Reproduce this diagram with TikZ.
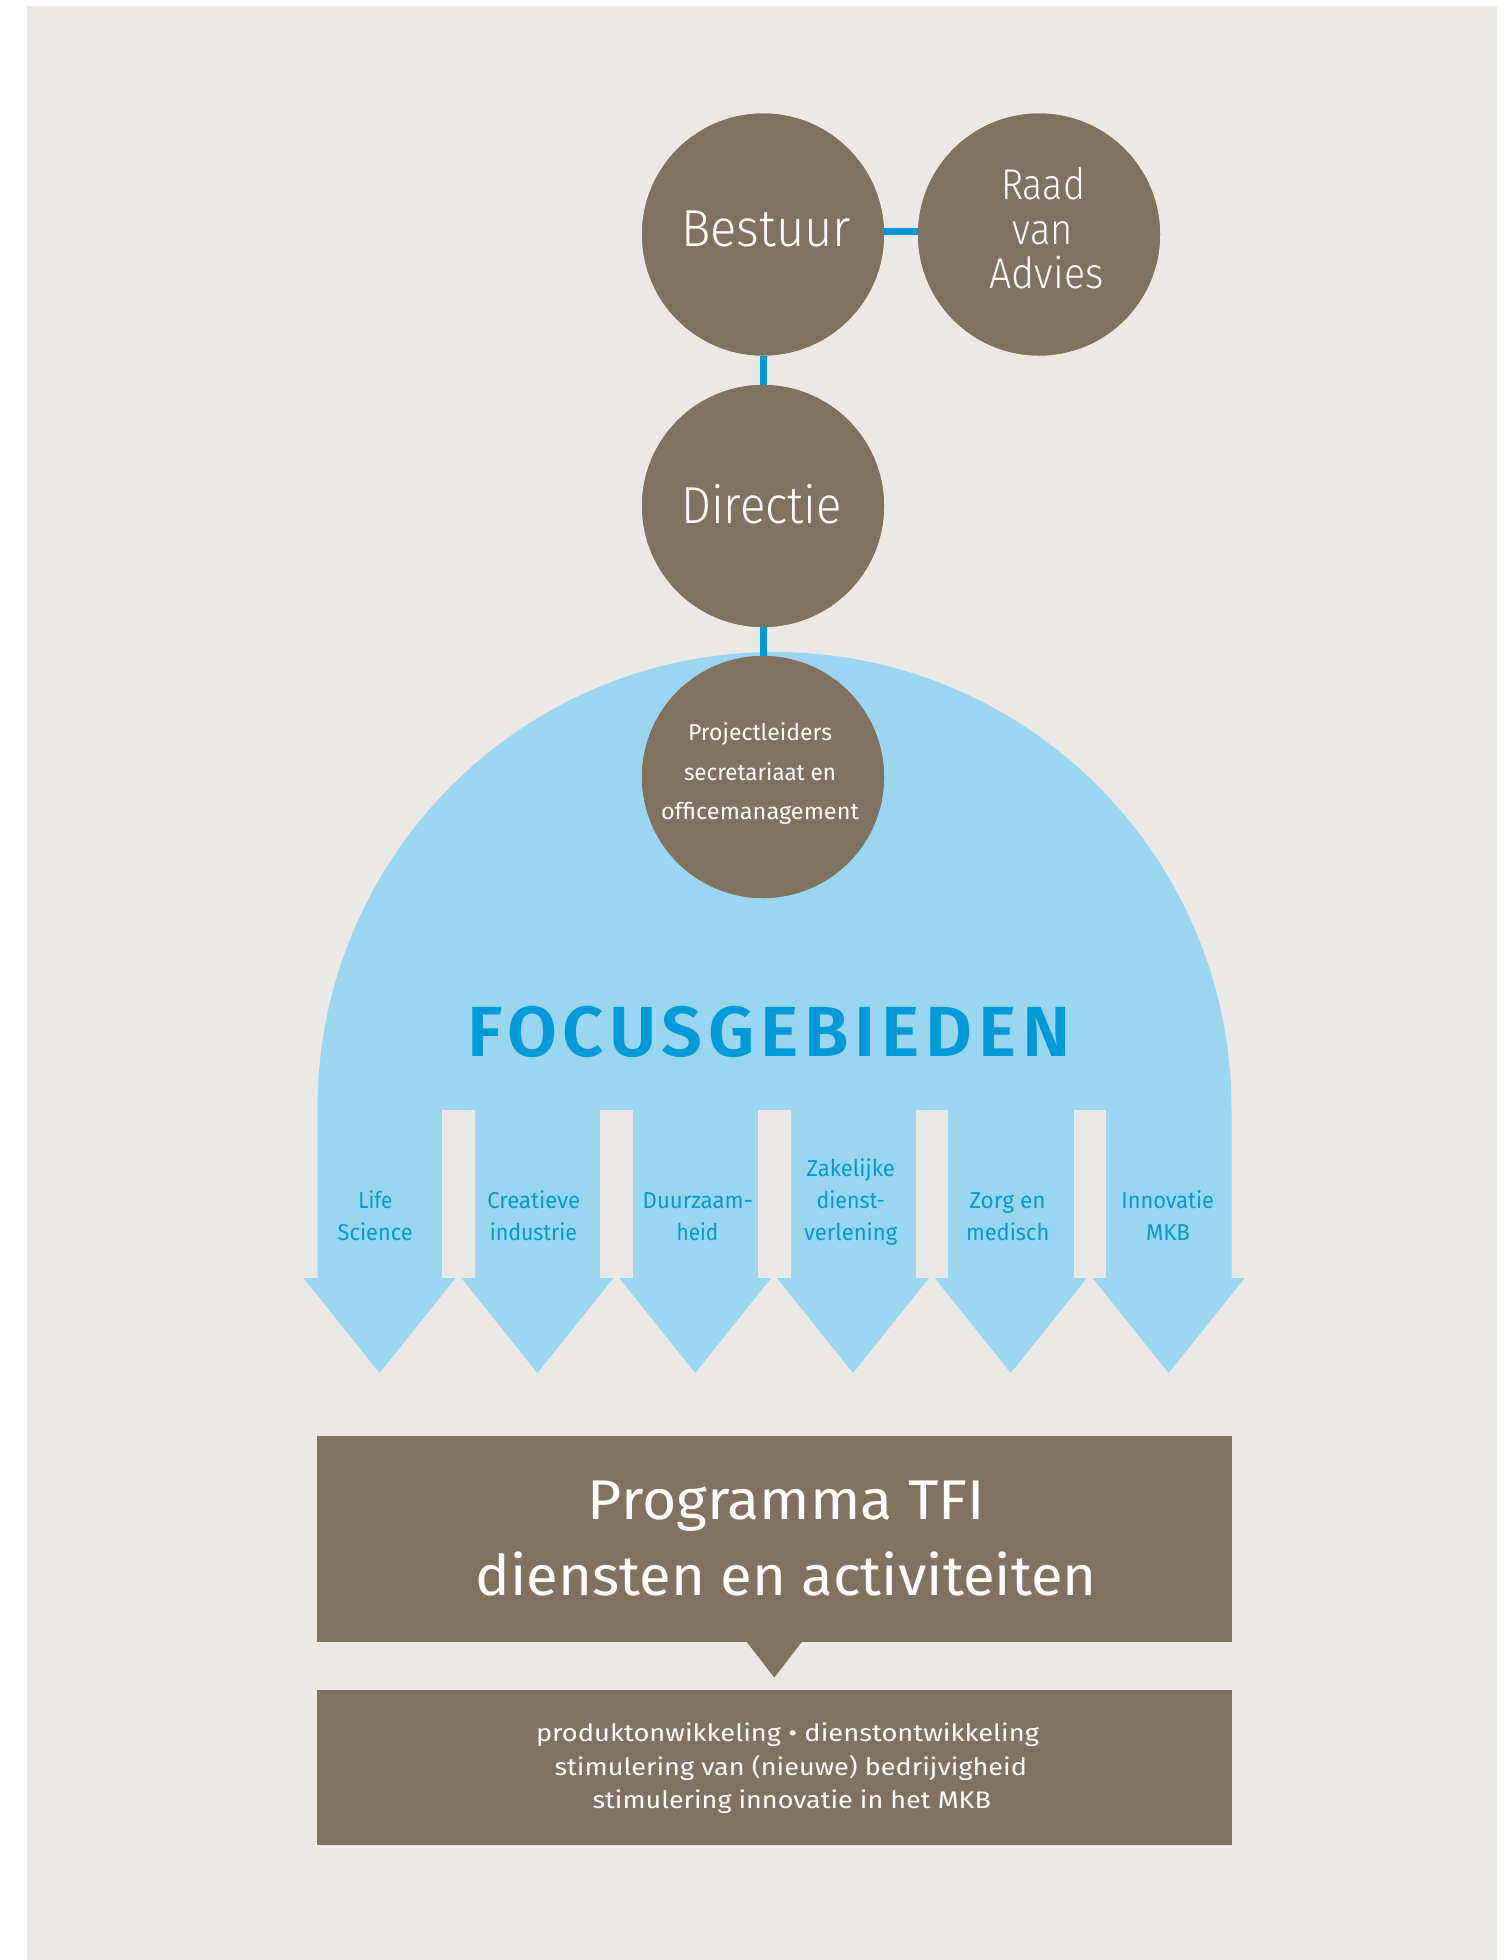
\documentclass[tikz,border=0pt]{standalone}
\usepackage{fontspec}
\usepackage{graphicx}
\setmainfont{Fira Sans}
\newfontfamily\lightf{Fira Sans Light}
\newfontfamily\semif{Fira Sans SemiBold}[LetterSpace=8]
\newcommand\fw[2]{\resizebox{#1pt}{\height}{#2}}
\newcommand\tl[6]{\node[#1] (#2) at (#3,#4) {\fw{#5}{#6}};}
\definecolor{bgc}{HTML}{EBE9E5}
\definecolor{brn}{HTML}{7F725E}
\definecolor{sky}{HTML}{9AD6EF}
\definecolor{tblue}{HTML}{009AD8}
\definecolor{cblue}{HTML}{0099D6}
\begin{document}
\begin{tikzpicture}[x=1pt,y=-1pt,
  circ/.style={circle, fill=brn, minimum size=242pt, inner sep=0pt},
  conn/.style={draw=cblue, line width=7pt},
  wt/.style={text=white, inner sep=0pt, anchor=base},
  big/.style={wt, font=\lightf\fontsize{52}{52}\selectfont},
  mid/.style={wt, font=\lightf\fontsize{43}{45}\selectfont},
  small/.style={wt, font=\fontsize{23}{30}\selectfont},
  lab/.style={text=tblue, inner sep=0pt, anchor=base, font=\fontsize{23}{32}\selectfont},
  head/.style={wt, font=\fontsize{56}{60}\selectfont},
  body/.style={wt, font=\fontsize{24}{30}\selectfont},
  box/.style={rectangle, fill=brn, inner sep=0pt, minimum width=914.5pt}
]
\useasboundingbox (0,0) rectangle (1511,1960);
\fill[white] (0,0) rectangle (1511,1960);
\fill[bgc] (27,6) rectangle (1497,1960);
% dome with arrow bodies
\fill[sky] (317.5,1278.5) -- (317.5,1109) arc[start angle=180,end angle=0,radius=457pt] -- (1231.5,1278.5) -- cycle;
\foreach \a/\b in {442/475,600/633,758/791,916/948,1073.5/1106}
  \fill[bgc] (\a,1110) rectangle (\b,1278.5);
\foreach \c in {379.6,537.4,695.2,853.0,1010.8,1168.6}
  \fill[sky] (\c-76,1278) -- (\c+76,1278) -- (\c,1373) -- cycle;
% circles (positions)
\path node[circ] (bes) at (763,234.5) {}
      node[circ] (raad) at (1039,234.5) {}
      node[circ] (dir) at (763,506) {}
      node[circ] (proj) at (763,777) {};
% connectors
\draw[conn] (bes.south) -- (dir.north);
\draw[conn] (dir.south) -- (proj.north);
\draw[conn] ([yshift=3.5pt]bes.east) -- ([yshift=3.5pt]raad.west);
% circles over connector ends
\foreach \n in {bes,raad,dir,proj}
  \fill[brn] (\n.center) circle[radius=121pt];
% circle texts
\tl{big}{tbes}{766}{246.5}{170}{Bestuur}
\tl{mid}{traad1}{1043}{199.4}{84}{Raad}
\tl{mid}{traad2}{1042.6}{244.6}{60}{van}
\tl{mid}{traad3}{1046.6}{288.6}{114}{Advies}
\tl{big}{tdir}{761.6}{523}{161}{Directie}
\tl{small}{tp1}{760}{740}{144}{Projectleiders}
\tl{small}{tp2}{760}{780}{152}{secretariaat en}
\tl{small}{tp3}{760}{819}{198}{officemanagement}
% FOCUSGEBIEDEN
\node[text=tblue, inner sep=0pt, anchor=base, font=\semif\fontsize{71}{71}\selectfont] (focus) at (769,1056) {\fw{603}{FOCUSGEBIEDEN}};
% arrow labels
\tl{lab}{l11}{375.3}{1208.3}{34}{Life}
\tl{lab}{l12}{375.2}{1240.5}{75}{Science}
\tl{lab}{l21}{533.7}{1208.3}{92.7}{Creatieve}
\tl{lab}{l22}{533.4}{1240.5}{87.3}{industrie}
\tl{lab}{l31}{697.7}{1208.3}{110}{Duurzaam-}
\tl{lab}{l32}{697.5}{1240.5}{41.7}{heid}
\tl{lab}{l41}{850.8}{1176}{88.3}{Zakelijke}
\tl{lab}{l42}{850.8}{1208.3}{68.3}{dienst-}
\tl{lab}{l43}{850.7}{1240.5}{93.3}{verlening}
\tl{lab}{l51}{1007.5}{1208.3}{76.3}{Zorg en}
\tl{lab}{l52}{1007.7}{1240.5}{83.3}{medisch}
\tl{lab}{l61}{1167.7}{1208.3}{92.7}{Innovatie}
\tl{lab}{l62}{1168}{1240.5}{44}{MKB}
% boxes
\node[box, minimum height=205.7pt] (prog) at (774.25,1538.85) {};
\node[box, minimum height=154.7pt] (act) at (774.25,1767.35) {};
\fill[brn] ([xshift=-27.5pt]prog.south) -- ([xshift=27.5pt]prog.south) -- ([yshift=-35.7pt]prog.south) -- cycle;
\tl{head}{h1}{786.5}{1519}{397}{Programma TFI}
\tl{head}{h2}{786.4}{1595}{621}{diensten en activiteiten}
\tl{body}{b1}{787.5}{1741.7}{503}{produktonwikkeling • dienstontwikkeling}
\tl{body}{b2}{790.8}{1775}{472.5}{stimulering van (nieuwe) bedrijvigheid}
\tl{body}{b3}{791.8}{1808.3}{398.3}{stimulering innovatie in het MKB}
\end{tikzpicture}
\end{document}
